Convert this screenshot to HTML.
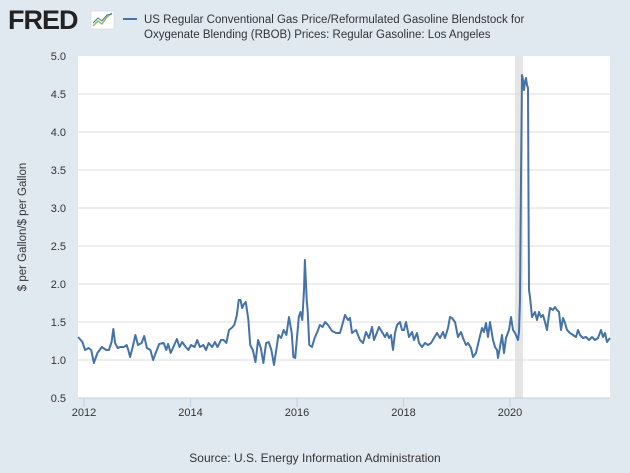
<!DOCTYPE html>
<html><head><meta charset="utf-8"><style>
body{margin:0;width:630px;height:468px;background:#e1e9f0;font-family:"Liberation Sans",sans-serif;overflow:hidden}
</style></head><body>
<svg width="630" height="468" xmlns="http://www.w3.org/2000/svg" font-family="Liberation Sans, sans-serif">
<rect width="630" height="468" fill="#e1e9f0"/>
<text x="8" y="29" font-size="27" font-weight="bold" fill="#222" letter-spacing="-1">FRED</text>
<rect x="91" y="11" width="23" height="18" fill="#fff" stroke="#ccc" stroke-width="0.5"/>
<polyline points="93,26 98,21 102,24 107,17 112,13" fill="none" stroke="#8bbf5e" stroke-width="1.5"/>
<polyline points="93,23 98,18 102,21 107,15 112,14" fill="none" stroke="#4572a7" stroke-width="1"/>
<line x1="123" y1="19" x2="137" y2="19" stroke="#4572a7" stroke-width="2"/>
<text x="144" y="23" font-size="11.5" fill="#333">US Regular Conventional Gas Price/Reformulated Gasoline Blendstock for</text>
<text x="144" y="38" font-size="11.5" fill="#333">Oxygenate Blending (RBOB) Prices: Regular Gasoline: Los Angeles</text>
<rect x="78" y="56" width="532" height="342" fill="#fff"/>
<rect x="515" y="56" width="8" height="342" fill="#e5e5e5"/>
<g stroke="#dcdcdc" stroke-width="1">
<line x1="78" y1="94" x2="610" y2="94"/><line x1="78" y1="132" x2="610" y2="132"/><line x1="78" y1="170" x2="610" y2="170"/><line x1="78" y1="208" x2="610" y2="208"/><line x1="78" y1="246" x2="610" y2="246"/><line x1="78" y1="284" x2="610" y2="284"/><line x1="78" y1="322" x2="610" y2="322"/><line x1="78" y1="360" x2="610" y2="360"/>
</g>
<line x1="78" y1="398" x2="610" y2="398" stroke="#c0d0e0"/>
<g stroke="#c0d0e0"><line x1="84" y1="398" x2="84" y2="407"/><line x1="190.5" y1="398" x2="190.5" y2="407"/><line x1="297" y1="398" x2="297" y2="407"/><line x1="403.5" y1="398" x2="403.5" y2="407"/><line x1="510" y1="398" x2="510" y2="407"/></g>
<g font-size="11" fill="#333" text-anchor="end">
<text x="66" y="60">5.0</text><text x="66" y="98">4.5</text><text x="66" y="136">4.0</text><text x="66" y="174">3.5</text><text x="66" y="212">3.0</text><text x="66" y="250">2.5</text><text x="66" y="288">2.0</text><text x="66" y="326">1.5</text><text x="66" y="364">1.0</text><text x="66" y="402">0.5</text>
</g>
<g font-size="11" fill="#333" text-anchor="middle">
<text x="84" y="416">2012</text><text x="190.5" y="416">2014</text><text x="297" y="416">2016</text><text x="403.5" y="416">2018</text><text x="510" y="416">2020</text>
</g>
<text transform="translate(26,227) rotate(-90)" font-size="11.5" fill="#333" text-anchor="middle">$ per Gallon/$ per Gallon</text>
<text x="315" y="462" font-size="12" fill="#333" text-anchor="middle">Source: U.S. Energy Information Administration</text>
<polyline fill="none" stroke="#4572a7" stroke-width="2" stroke-linejoin="round" points="78,337 79.8,339 82.4,342 85.1,350 88.6,348 91.2,350 93.9,363 97.4,353 101.8,347 106.3,350 108.9,350 111.6,342 113.3,329 115.1,343 117.7,348 120.4,347 123.9,347 126.6,345 128.3,350 130.1,357 132.7,347 135.4,335 138,345 141.6,343 144.2,336 146.9,348 150.4,350 153.1,360 155.7,353 159.2,344 163.7,343 166.3,350 168.1,344 170.7,353 173.4,347 176.9,339 179.5,347 182.2,342 185.7,347 188.4,350 191,345 194.6,347 197.2,340 199.9,347 203.4,345 206,350 208.7,343 212.2,347 214.9,342 217.5,347 221,340 223.7,340 226.3,343 229,330 231.6,328 234.3,325 236.9,315 238.7,300 240.5,300 242.2,308 244,304 245.8,302 248.4,320 250.2,345 252.8,350 255.5,362 258.1,340 260.8,348 263.4,363 266.1,343 268.7,342 271.4,350 274,365 276.7,347 278.4,335 281.1,338 283.7,330 286.4,335 289,317 291.7,333 293.4,357 295.2,358 298.8,317 300.5,312 302.3,320 304,290 304.9,260 306.7,300 307.6,310 309.3,345 312,347 314.6,338 317.3,332 319.9,325 322.6,327 325.1,322 328,325 332,331 336,333 340,333 345,315 348,320 350,318 352,333 356,330 360,340 363,343 366,332 369,338 372,327 374,340 376,335 379,327 382,332 385,337 387,333 389,338 391,335 393,350 395,333 397,325 400,322 402,330 404,330 406,322 409,337 412,332 414,340 417,333 419,343 422,347 425,343 428,345 431,343 434,338 437,333 440,338 443,332 445,338 448,328 450,317 452,318 455,322 458,337 461,332 463,338 466,345 468,343 471,348 473,357 476,353 479,340 482,328 484,332 486,323 488,337 490,322 493,340 495,347 497,350 498,358 500,347 502,335 504,353 506,338 509,330 511,317 513,330 515,333 518,340 519,332 520,300 521,180 522,75 523,80 524,90 525,82 526,78 527,85 528,88 528.5,200 529,290 530,297 532,317 535,312 537,320 539,312 541,317 543,315 545,322 547,330 548,322 550,308 553,310 555,307 557,310 559,312 561,330 563,318 565,323 567,330 570,333 573,335 576,337 578,330 580,335 583,338 586,337 589,340 592,337 595,340 598,338 601,330 603,337 605,333 607,342 610,338"/>
</svg>
</body></html>
